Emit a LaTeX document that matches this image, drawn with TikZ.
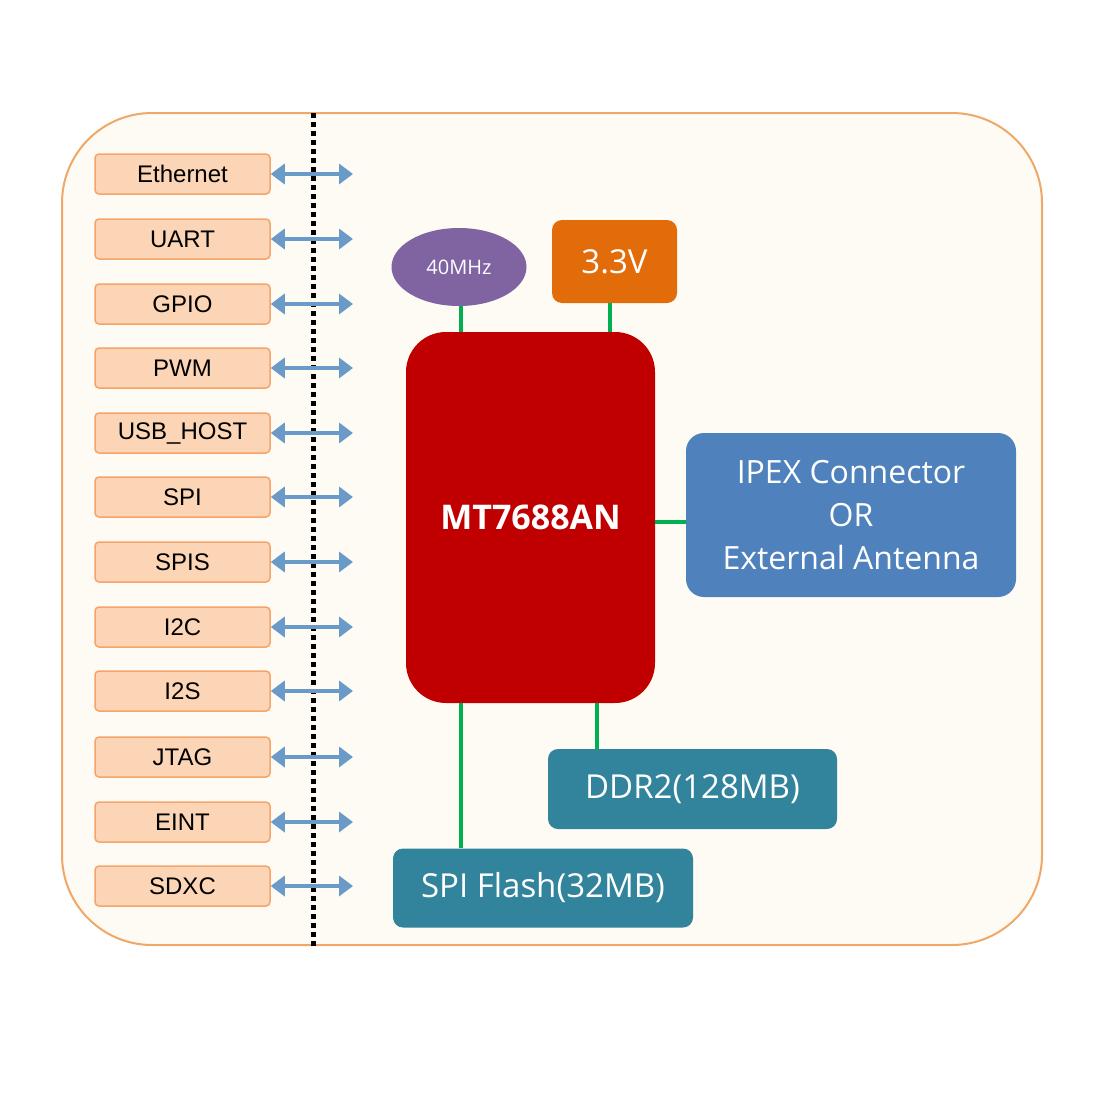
\documentclass[tikz,border=0pt]{standalone}
\usepackage{fontspec}
\setmainfont{Liberation Sans}
\newfontfamily\rfont{Open Sans}
\usetikzlibrary{shapes.geometric,arrows.meta,patterns}
\definecolor{frame}{HTML}{F0A868}
\definecolor{cream}{HTML}{FDFBF3}
\definecolor{lbox}{HTML}{FBD5B5}
\definecolor{lbord}{HTML}{F5A46A}
\definecolor{arr}{HTML}{6A9BC8}
\definecolor{purp}{HTML}{8064A2}
\definecolor{orng}{HTML}{E36C0A}
\definecolor{chip}{HTML}{C00000}
\definecolor{blu}{HTML}{4F81BD}
\definecolor{teal}{HTML}{31849B}
\definecolor{grn}{HTML}{00B050}
\begin{document}
\begin{tikzpicture}[x=1pt,y=-1pt,
 lb/.style={draw=lbord,line width=1.5pt,fill=lbox,rounded corners=4pt,minimum width=175pt,minimum height=40pt,inner sep=0pt,font=\fontsize{24}{26}\selectfont},
 ar/.style={arr,line width=4.5pt,{Triangle[length=14pt,width=20pt]}-{Triangle[length=14pt,width=20pt]}},
 gl/.style={grn,line width=4pt},
 rb/.style={rounded corners=10pt,text=white,inner sep=0pt,font=\rfont},
]
\useasboundingbox (0,0) rectangle (1100,1100);
\fill[white] (0,0) rectangle (1100,1100);
\draw[frame,line width=2pt,fill=cream,rounded corners=90pt] (62,113) rectangle (1042,945);
\draw[black,line width=5pt,dash pattern=on 5pt off 4pt] (313,113) -- (313,948);
\foreach \t/\y [count=\i] in {Ethernet/174,UART/239,GPIO/304,PWM/368,USB\_HOST/433,SPI/497,SPIS/562,I2C/627,I2S/691,JTAG/757,EINT/822,SDXC/886}{
  \node[lb] (l\i) at (182.5,\y) {\t};
  \coordinate (e\i) at (353,\y);
  \draw[ar] (l\i.east) -- (e\i);
}
\node[ellipse,fill=purp,minimum width=135pt,minimum height=78pt,text=white,font=\rfont\fontsize{20}{22}\selectfont] (osc) at (459,267) {40MHz};
\node[rb,fill=orng,minimum width=125pt,minimum height=83pt,font=\rfont\fontsize{33}{35}\selectfont] (pw) at (614.5,261.5) {3.3V};
\node[rb,fill=chip,rounded corners=40pt,minimum width=249pt,minimum height=371pt,font=\rfont\bfseries\fontsize{34}{36}\selectfont] (mt) at (530.5,517.5) {MT7688AN};
\node[rb,fill=blu,rounded corners=18pt,minimum width=330pt,minimum height=164pt,align=center,font=\rfont\fontsize{32}{43}\selectfont] (ipex) at (851,515) {IPEX Connector\\OR\\External Antenna};
\node[rb,fill=teal,minimum width=289pt,minimum height=80pt,font=\rfont\fontsize{33}{35}\selectfont] (ddr) at (692.5,789) {DDR2(128MB)};
\node[rb,fill=teal,minimum width=300pt,minimum height=79pt,font=\rfont\fontsize{33}{35}\selectfont] (spi) at (543,888) {SPI Flash(32MB)};
\draw[gl] (osc.south -| 461,0) -- (mt.north -| 461,0);
\draw[gl] (pw.south -| 610,0) -- (mt.north -| 610,0);
\draw[gl] (mt.east |- 0,522) -- (ipex.west |- 0,522);
\draw[gl] (mt.south -| 461,0) -- (spi.north -| 461,0);
\draw[gl] (mt.south -| 597,0) -- (ddr.north -| 597,0);
\end{tikzpicture}
\end{document}
